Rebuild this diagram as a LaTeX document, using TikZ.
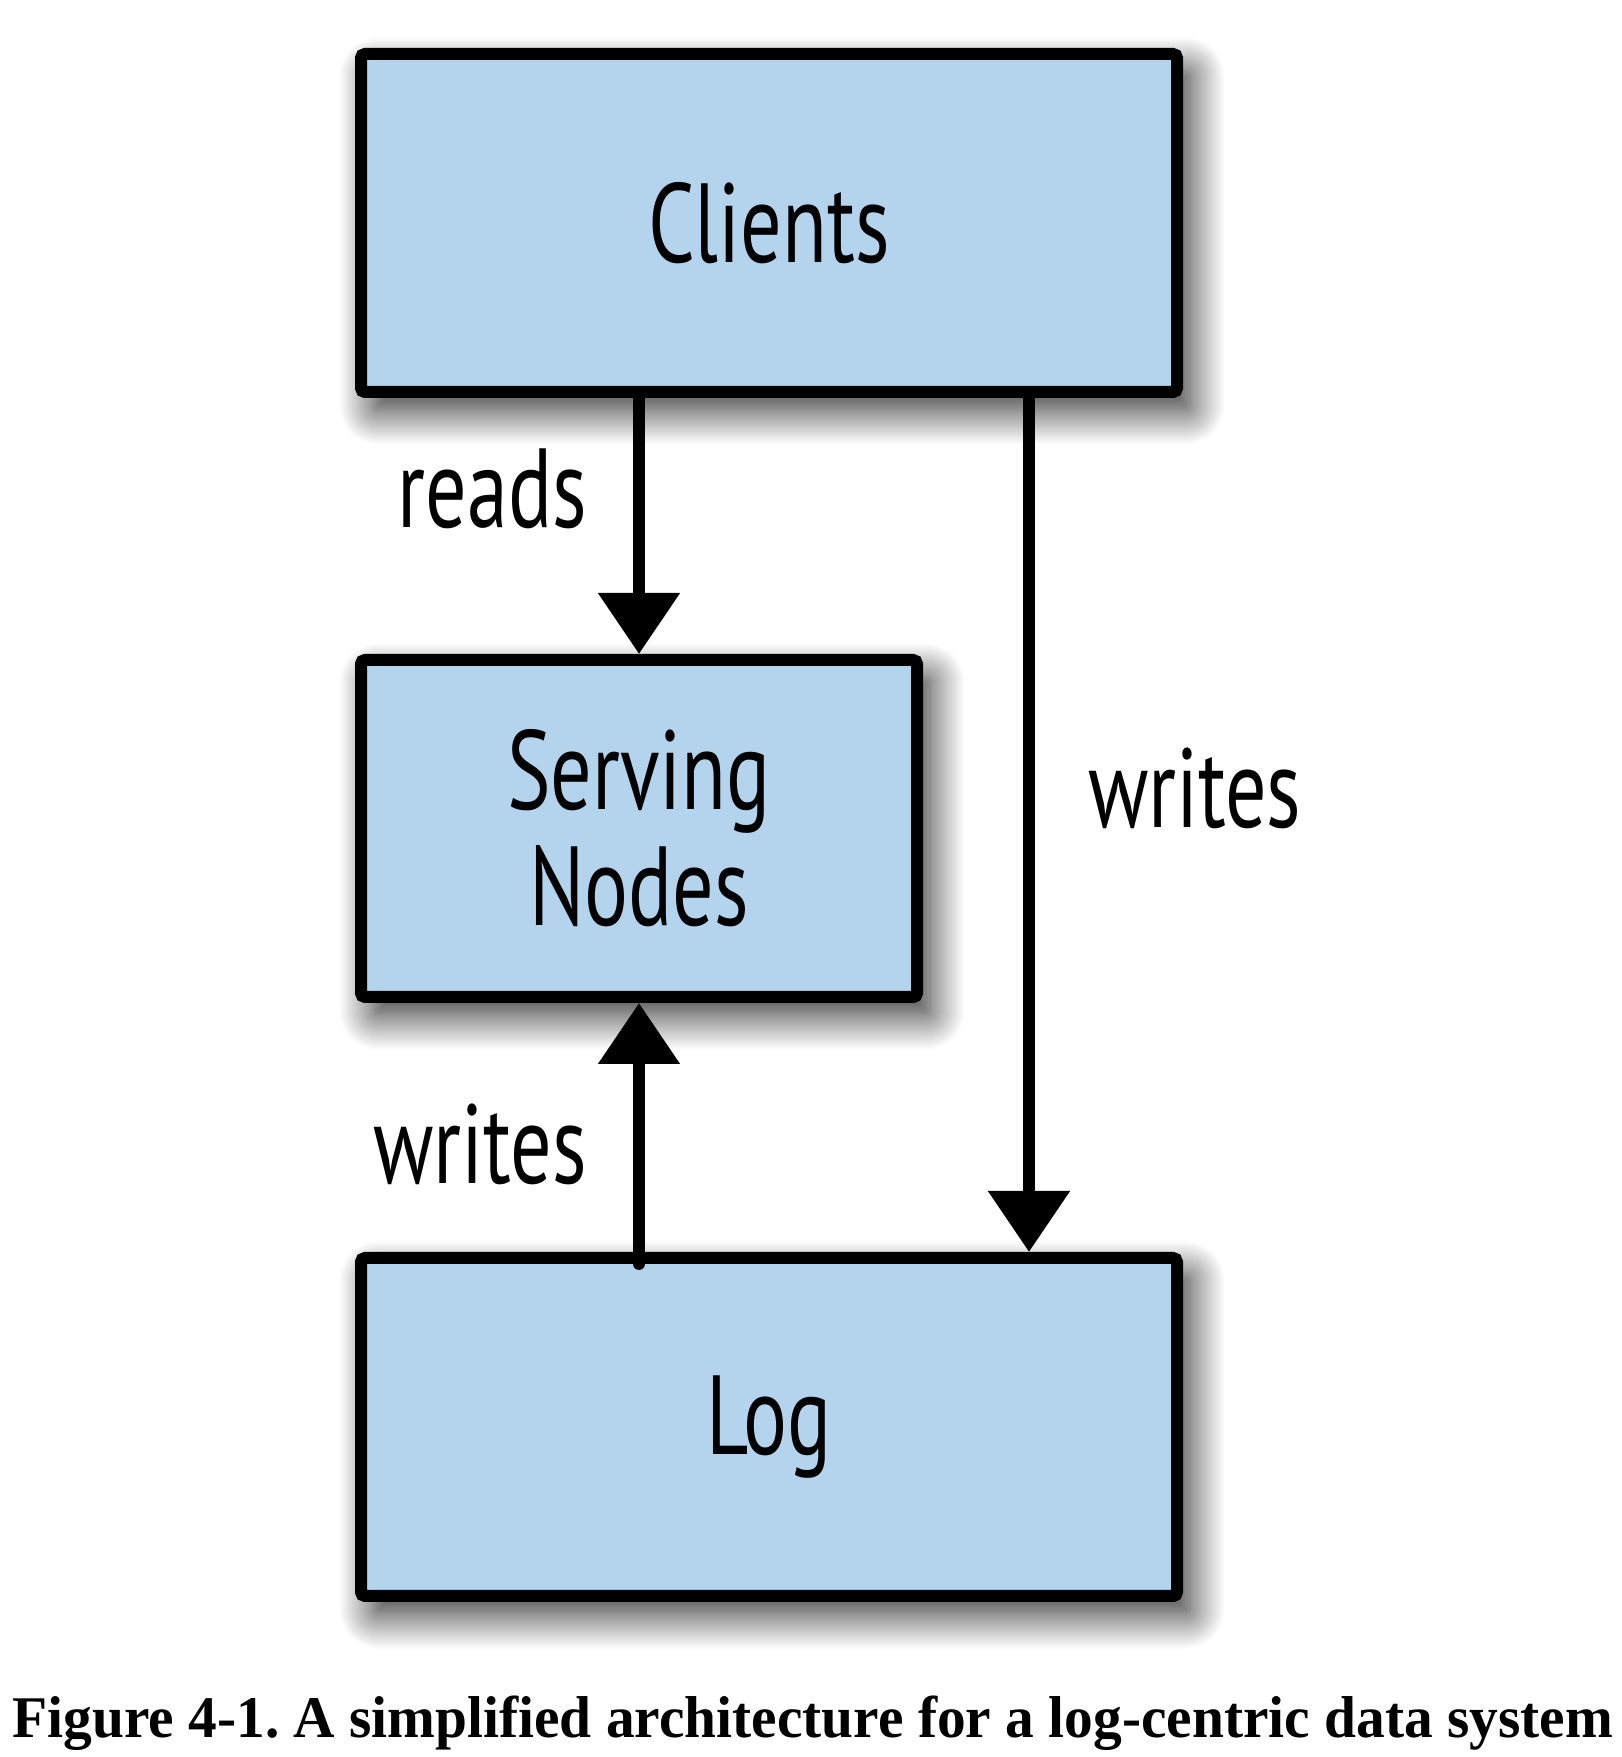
\documentclass[tikz,border=0pt]{standalone}
\usepackage{fontspec}
\setmainfont[FakeStretch=0.972]{Liberation Serif}
\newfontfamily\boxfont[FakeStretch=0.73]{PT Sans}
\usetikzlibrary{arrows.meta,shadows.blur}
\definecolor{boxblue}{RGB}{180,212,238}
\frenchspacing
\tikzset{
  box/.style={draw=black, fill=boxblue, line width=1.2mm, rounded corners=0.4mm,
    blur shadow={shadow xshift=1.3mm, shadow yshift=-1.8mm, shadow blur radius=3.5mm, shadow blur steps=30, shadow opacity=85},
    font=\boxfont\fontsize{32}{33}\selectfont, align=center, inner sep=0pt},
  arr/.style={line width=1.2mm, -{Triangle[length=6.1mm, width=7.9mm]}},
  lbl/.style={font=\boxfont\fontsize{32}{33}\selectfont, inner sep=0pt}
}

\begin{document}
\begin{tikzpicture}
\useasboundingbox (0,0) rectangle (16.22,17.57);
\node[box, minimum width=8.16cm, minimum height=3.38cm] (clients) at (7.69,15.34) {Clients};
\node[box, minimum width=5.56cm, minimum height=3.37cm] (serving) at (6.39,9.285) {Serving\\Nodes};
\node[box, minimum width=8.16cm, minimum height=3.38cm] (log) at (7.69,3.30) {Log};
\coordinate (wx) at (10.29,0);
\draw[arr] (clients.south -| serving.north) -- node[lbl, pos=.506, anchor=base east, xshift=-4.6mm] (readlbl) {reads} (serving.north);
\draw[arr] (clients.south -| wx) -- node[lbl, pos=.503, anchor=base west, xshift=5.3mm] (logwlbl) {writes} (log.north -| wx);
\draw[arr, line cap=round] ([yshift=-1.2mm]serving.south |- log.north) -- node[lbl, pos=.31, anchor=base east, xshift=-4.6mm] (servwlbl) {writes} (serving.south);
\node[anchor=base west, font=\bfseries\fontsize{16.8}{20}\selectfont, inner sep=0pt] (caption) at (0.12,0.19) {Figure 4-1. A simplified architecture for a log-centric data system};
\end{tikzpicture}
\end{document}
